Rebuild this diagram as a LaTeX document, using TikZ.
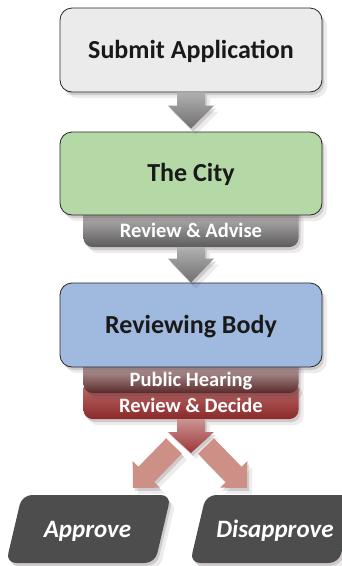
\documentclass[tikz,border=0pt]{standalone}
\usepackage{fontspec}
\setmainfont{Carlito}
\usetikzlibrary{calc,shadows}
\definecolor{shadowc}{HTML}{4A3A40}
\definecolor{submitc}{HTML}{EBEBEB}
\definecolor{cityc}{HTML}{B4D8A6}
\definecolor{reviewc}{HTML}{A0B9DE}
\definecolor{tabgtop}{HTML}{CFCACA}
\definecolor{tabgmid}{HTML}{8C8A8A}
\definecolor{tabgbot}{HTML}{5C5C5C}
\definecolor{tabhtop}{HTML}{E2D2D2}
\definecolor{tabhmid}{HTML}{9A6E6E}
\definecolor{tabhbot}{HTML}{5A2A2A}
\definecolor{tabdtop}{HTML}{C47272}
\definecolor{tabdmid}{HTML}{A03C3C}
\definecolor{tabdbot}{HTML}{8A2A2A}
\definecolor{arrgtop}{HTML}{B0B0B0}
\definecolor{arrgbot}{HTML}{707070}
\definecolor{arrrtop}{HTML}{C99494}
\definecolor{arrrbot}{HTML}{9E3636}
\definecolor{salmon}{HTML}{CD9086}
\definecolor{outc}{HTML}{4D4D4D}
\tikzset{
  shd/.style={drop shadow={shadow xshift=2pt,shadow yshift=-3pt,opacity=.18,fill=shadowc},
              drop shadow={shadow xshift=5pt,shadow yshift=-6pt,opacity=.10,fill=shadowc}},
  mainbox/.style={draw=black!85, line width=0.8pt, rounded corners=12pt,
    minimum width=262pt, minimum height=84pt, inner sep=0pt,
    text height=16.7pt, text depth=0pt,
    font=\bfseries\fontsize{26}{30}\selectfont, text=black!90, shd},
  tabbox/.style={rounded corners=9pt, minimum width=215pt, inner sep=0pt,
    text depth=0pt, text=white, font=\bfseries\fontsize{20.5}{24}\selectfont, shd},
  graytab/.style={tabbox, top color=tabgtop, middle color=tabgmid, bottom color=tabgbot},
  heartab/.style={tabbox, top color=tabhtop, middle color=tabhmid, bottom color=tabhbot},
  dectab/.style={tabbox, top color=tabdtop, middle color=tabdmid, bottom color=tabdbot},
  grayarrow/.style={top color=arrgtop, bottom color=arrgbot, shd},
  redarrow/.style={top color=arrrtop, bottom color=arrrbot, shd},
  diagarrow/.style={fill=salmon, shd},
  outshape/.style={fill=outc, rounded corners=10pt, shd},
  outtext/.style={text=white, inner sep=0pt, text height=16pt, text depth=0pt,
    font=\bfseries\itshape\fontsize{25}{30}\selectfont}
}
% #1 style, #2 start, #3 tip, #4 shaft half width, #5 head half width, #6 head length
\newcommand\blockarrow[6]{%
  \coordinate (ba-a) at (#2);
  \coordinate (ba-b) at (#3);
  \coordinate (ba-h) at ($(ba-b)!#6!(ba-a)$);
  \path[#1] ($(ba-a)!#4!90:(ba-b)$) -- ($(ba-h)!#4!-90:(ba-a)$) --
    ($(ba-h)!#5!-90:(ba-a)$) -- (ba-b) -- ($(ba-h)!#5!90:(ba-a)$) --
    ($(ba-h)!#4!90:(ba-a)$) -- ($(ba-a)!#4!-90:(ba-b)$) -- cycle;
}
\begin{document}
\begin{tikzpicture}[x=1pt,y=-1pt]
\useasboundingbox (0,0) rectangle (342,566);
% tabs (behind boxes)
\node[graytab, minimum height=42pt, text height=23pt] (advise) at (191,226) {Review \& Advise};
\node[dectab, minimum height=39pt, text height=26pt] (decide) at (191,399.5) {Review \& Decide};
\node[heartab, minimum height=38pt, text height=25pt] (hearing) at (191,374) {Public Hearing};
% main boxes
\node[mainbox, fill=submitc] (submit) at (191,50) {Submit Application};
\node[mainbox, fill=cityc, minimum height=83pt] (city) at (191,173.5) {The City};
\node[mainbox, fill=reviewc] (review) at (191,325) {Reviewing Body};
% vertical connectors
\blockarrow{grayarrow}{submit.south}{$(city.north)+(0,-3)$}{14pt}{23pt}{23pt}
\blockarrow{grayarrow}{advise.south}{review.north}{14pt}{23pt}{24pt}
\coordinate (split) at (191,453);
\blockarrow{redarrow}{decide.south}{split}{14pt}{23pt}{21pt}
% outcomes
\coordinate (appc) at (88.5,529);
\coordinate (disc) at (272.5,529);
\path[outshape] ($(appc)+(-66.5,-34)$) -- ($(appc)+(82.5,-34)$) -- ($(appc)+(66.5,34)$) -- ($(appc)+(-82.5,34)$) -- cycle;
\path[outshape] ($(disc)+(-66.5,-34)$) -- ($(disc)+(82.5,-34)$) -- ($(disc)+(66.5,34)$) -- ($(disc)+(-82.5,34)$) -- cycle;
\node[outtext] (approve) at ($(appc)+(-1,0)$) {Approve};
\node[outtext] (disapprove) at ($(disc)+(2.5,0)$) {Disapprove};
% diagonal connectors
\coordinate (apptip) at ($(appc)+(44.5,-41)$);
\coordinate (distip) at ($(disc)+(-25.5,-41)$);
\blockarrow{diagarrow}{$(split)+(-17,-7)$}{apptip}{11pt}{19pt}{19pt}
\blockarrow{diagarrow}{$(split)+(15,-7)$}{distip}{11pt}{19pt}{19pt}
\end{tikzpicture}
\end{document}
